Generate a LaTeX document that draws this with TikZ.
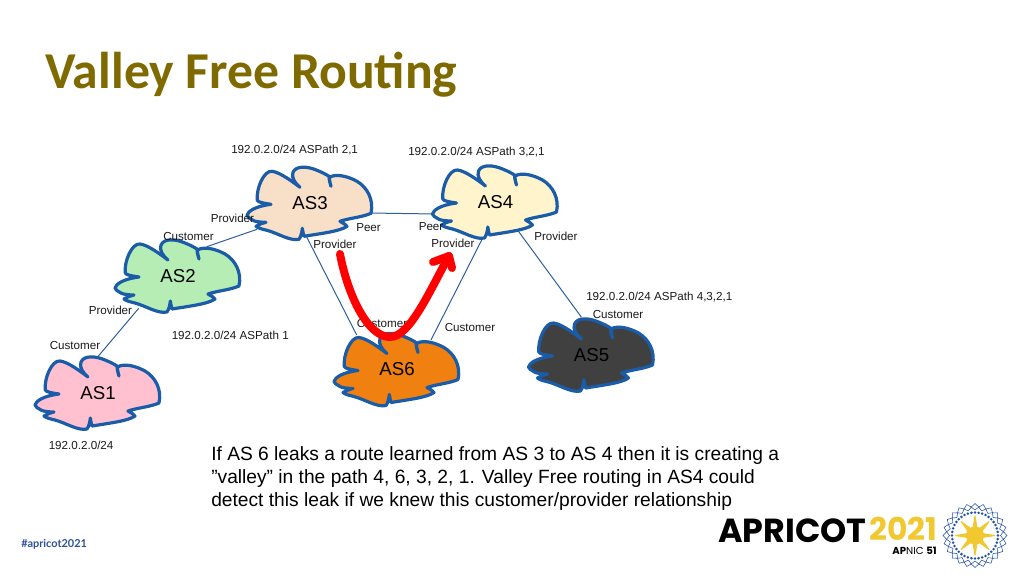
\documentclass[tikz,border=0pt]{standalone}
\usepackage{fontspec}
\setmainfont{Liberation Sans}
\newfontfamily\titlefont{Carlito}
\newfontfamily\logofont{Poppins}
\newfontfamily\tagfont{Lato}
\usetikzlibrary{backgrounds}
\definecolor{titleol}{HTML}{7F6A00}
\definecolor{cloudblue}{HTML}{1B5CA8}
\definecolor{linkblue}{HTML}{2F5F9F}
\definecolor{logoyellow}{HTML}{F2C830}
\definecolor{logoblue}{HTML}{1F4FA8}
\definecolor{tagblue}{HTML}{2F4F9F}
\definecolor{fillthree}{HTML}{F8DFC8}
\definecolor{fillfour}{HTML}{FFF4CC}
\definecolor{filltwo}{HTML}{B5EDB5}
\definecolor{fillone}{HTML}{FFC0D0}
\definecolor{fillsix}{HTML}{F0800F}
\definecolor{fillfive}{HTML}{404040}
\definecolor{textgrey}{HTML}{1A1A1A}
\tikzset{
  small/.style={anchor=west,inner sep=0pt,text=textgrey,font=\fontsize{8.72pt}{10pt}\selectfont,text height=6.4pt,text depth=0pt},
  cloudlabel/.style={inner sep=0pt,minimum width=95pt,minimum height=55pt,font=\fontsize{14pt}{16pt}\selectfont},
  cloudline/.style={draw=cloudblue,line width=2.4pt,line join=round},
  link/.style={draw=linkblue,line width=.75pt},
  leak/.style={draw=red,line width=6pt,line cap=round,line join=round},
  body/.style={anchor=west,inner sep=0pt,font=\fontsize{14.4pt}{17pt}\selectfont},
}
\newcommand\ascloud[5]{%
  \begin{scope}[shift={(#2,#3)}]
  \filldraw[cloudline,fill=#4]
    (-39,1) .. controls (-46,0) and (-52,-1) .. (-52.7,-3)
    .. controls (-54,-15) and (-46,-33) .. (-38,-32)
    .. controls (-30,-31) and (-18,-22) .. (-10,-16)
    .. controls (-15,-20) and (-19,-26) .. (-17,-31)
    .. controls (-14,-38) and (-2,-37) .. (7,-33)
    .. controls (12,-31) and (16,-29) .. (19,-27)
    .. controls (19,-24) and (20,-20) .. (21,-17)
    .. controls (20,-21) and (19,-24) .. (19.5,-26)
    .. controls (26,-30) and (38,-27) .. (47,-22)
    .. controls (57,-16) and (64,-4) .. (61,10)
    .. controls (52,14) and (38,15) .. (30,18)
    .. controls (33,20) and (36,21) .. (37,23)
    .. controls (30,28) and (12,30) .. (-6,33)
    .. controls (-7,30) and (-7,28) .. (-7.7,25)
    .. controls (-8,29) and (-9,33) .. (-11,36)
    .. controls (-20,38) and (-32,30) .. (-43,27)
    .. controls (-47,26) and (-52,25) .. (-54,23)
    .. controls (-51,21) and (-48,20) .. (-44,19)
    .. controls (-50,19) and (-56,18) .. (-57,17)
    .. controls (-60,15) and (-63,14) .. (-63,12)
    .. controls (-62,8) and (-55,3) .. (-39,1) -- cycle;
  \end{scope}
  \node[cloudlabel] (#1) at (#2,#3) {#5};}
\begin{document}
\begin{tikzpicture}[x=.75pt,y=-.75pt]
\useasboundingbox (0,0) rectangle (1024,576);
\begin{pgfonlayer}{background}
\fill[white] (0,0) rectangle (1024,576);
\end{pgfonlayer}
\node[anchor=west,inner sep=0pt,text=titleol,font=\titlefont\bfseries\fontsize{38.8pt}{42pt}\selectfont] (title) at (45,75) {Valley Free Routing};

\ascloud{as3}{310}{203.3}{fillthree}{AS3}
\ascloud{as4}{495.5}{202}{fillfour}{AS4}
\ascloud{as2}{178}{276}{filltwo}{AS2}
\ascloud{as1}{98}{393}{fillone}{AS1}
\ascloud{as6}{397}{369.5}{fillsix}{AS6}
\ascloud{as5}{591.5}{355}{fillfive}{AS5}

\begin{pgfonlayer}{background}
\draw[link] ([shift={(60,9.7)}]as3.center) -- ([shift={(-60,12)}]as4.center);
\draw[link] ([shift={(-53,26)}]as3.center) -- ([shift={(28.7,-29.3)}]as2.center);
\draw[link] ([shift={(-39.3,32.3)}]as2.center) -- ([shift={(-1,-35.3)}]as1.center);
\draw[link] ([shift={(-3.3,33.7)}]as3.center) -- ([shift={(-40.3,-34.5)}]as6.center);
\draw[link] ([shift={(-13.8,38)}]as4.center) -- ([shift={(34,-29.5)}]as6.center);
\draw[link] ([shift={(22,28)}]as4.center) -- ([shift={(-10,-37.7)}]as5.center);
\end{pgfonlayer}

\node[small] (t1) at (231,149) {192.0.2.0/24 ASPath 2,1};
\node[small] (t2) at (408,151) {192.0.2.0/24 ASPath 3,2,1};
\node[small] (t3) at (210.5,218) {Provider};
\node[small] (t4) at (163,236) {Customer};
\node[small] (t5) at (356,227) {Peer};
\node[small] (t6) at (313,244) {Provider};
\node[small] (t7) at (418.5,226) {Peer};
\node[small] (t8) at (431,243) {Provider};
\node[small] (t9) at (534,236) {Provider};
\node[small] (t10) at (586,296) {192.0.2.0/24 ASPath 4,3,2,1};
\node[small] (t11) at (592.5,314) {Customer};
\node[small] (t12) at (88.5,310) {Provider};
\node[small] (t13) at (171.5,335) {192.0.2.0/24 ASPath 1};
\node[small] (t14) at (49.5,345) {Customer};
\node[small] (t15) at (356.5,323.5) {Customer};
\node[small] (t16) at (444.5,327) {Customer};
\node[small] (t17) at (48.5,445) {192.0.2.0/24};

% red leak arrow
\coordinate (leakstart) at (340,254);
\coordinate (leakbottom) at (390,337);
\coordinate (leaktip) at (449,256);
\draw[leak] (leakstart) .. controls (348,296) and (368,337) .. (leakbottom)
   .. controls (410,337) and (430,290) .. (leaktip);
\draw[leak] (433,262) -- (leaktip) -- (452,268);

\node[body] (b1) at (211,455.5) {If AS 6 leaks a route learned from AS 3 to AS 4 then it is creating a};
\node[body] (b2) at (211,478.5) {”valley” in the path 4, 6, 3, 2, 1. Valley Free routing in AS4 could};
\node[body] (b3) at (211,501.5) {detect this leak if we knew this customer/provider relationship};

% footer
\node[anchor=west,inner sep=0pt,text=tagblue,font=\tagfont\bfseries\fontsize{8.2pt}{10pt}\selectfont] (tag) at (21,544) {\#apricot2021};
\node[anchor=west,inner sep=0pt,font=\logofont\bfseries\fontsize{25pt}{27pt}\selectfont] (lg1) at (718,530.5) {APRICOT};
\node[anchor=west,inner sep=0pt,text=logoyellow,text height=15pt,text depth=0pt,font=\logofont\bfseries\fontsize{23.5pt}{26pt}\selectfont] (lg2) at (869,530.5) {2021};
\node[anchor=east,inner sep=0pt,font=\logofont\fontsize{7.6pt}{8pt}\selectfont] (lg3) at (937,551) {\textbf{AP}NIC \textbf{51}};
% emblem
\coordinate (sun) at (975,535.5);
\foreach \a in {0,45,...,315}{
  \fill[logoyellow,shift={(sun)},rotate=\a] (8,-2.4) -- (20,-.5) -- (20,.5) -- (8,2.4) -- cycle;
}
\fill[logoyellow] (sun) circle[radius=9];
\foreach \a in {0,9,...,351}{
  \fill[logoblue,shift={(sun)}] (\a:23) circle[radius=1.4];
}
\foreach \a in {0,15,...,345}{
  \draw[logoblue,line width=.4pt,shift={(sun)}] (\a:25.5) -- (\a+7.5:28.7) -- (\a:32) -- (\a-7.5:28.7) -- cycle;
}
\end{tikzpicture}
\end{document}
